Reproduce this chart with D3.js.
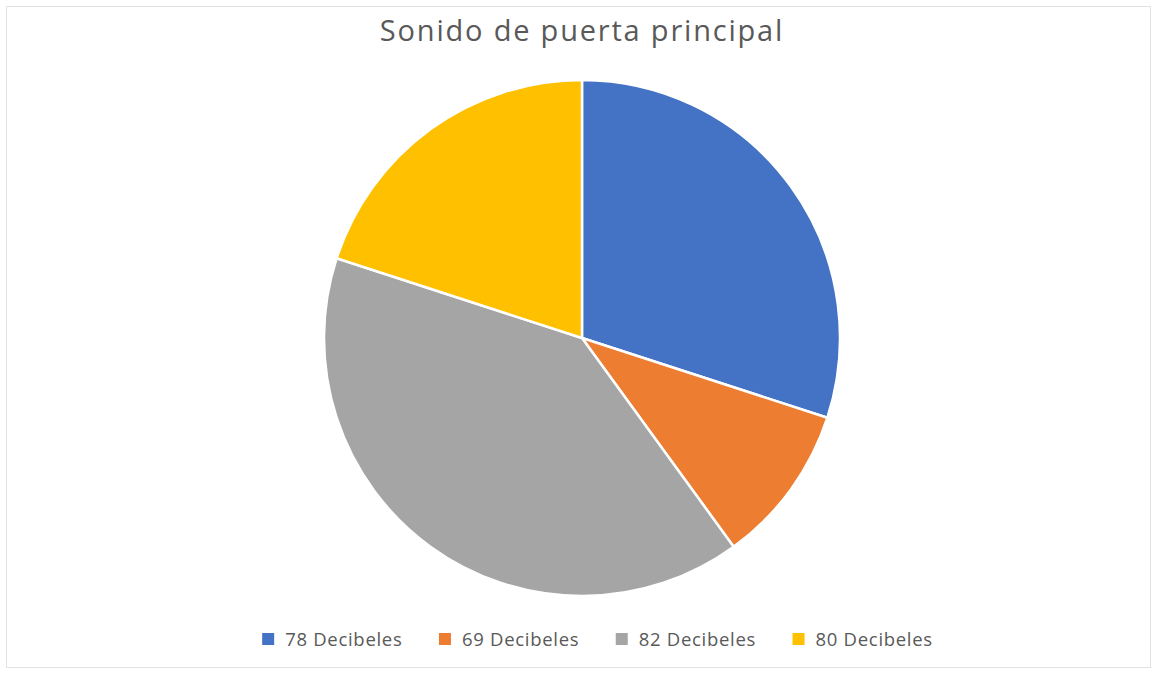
<!DOCTYPE html>
<html>
<head>
<meta charset="utf-8">
<script src="https://cdn.jsdelivr.net/npm/d3@7"></script>
<style>
  html, body { margin: 0; padding: 0; background: #fff; }
  svg { display: block; }
</style>
</head>
<body>
<svg id="chart" width="1155" height="673"></svg>
<script>
// Door sound readings: share of each level
const categories = ["78 Decibeles", "69 Decibeles", "82 Decibeles", "80 Decibeles"];
const values = [3, 1, 4, 2];
const colors = ["#4472C4", "#ED7D31", "#A5A5A5", "#FFC000"];
const title = "Sonido de puerta principal";

const svg = d3.select("#chart");
const font = "'Open Sans', 'Noto Sans', sans-serif";

// chart frame
svg.append("rect")
  .attr("x", 6.5).attr("y", 6.5)
  .attr("width", 1144).attr("height", 661)
  .attr("fill", "#fff")
  .attr("stroke", "#e3e3e3")
  .attr("stroke-width", 1);

// title
svg.append("text")
  .attr("x", 582).attr("y", 41)
  .attr("text-anchor", "middle")
  .attr("font-family", font)
  .attr("font-size", 29)
  .attr("letter-spacing", "1.8px")
  .attr("fill", "#595959")
  .text(title);

// pie
const cx = 582, cy = 338, R = 258;
const pie = d3.pie().sort(null).value(d => d.v);
const arc = d3.arc().innerRadius(0).outerRadius(R);
const data = categories.map((c, i) => ({ c, v: values[i], col: colors[i] }));

svg.append("g")
  .attr("transform", `translate(${cx},${cy})`)
  .selectAll("path")
  .data(pie(data))
  .join("path")
  .attr("d", arc)
  .attr("fill", d => d.data.col)
  .attr("stroke", "#fff")
  .attr("stroke-width", 2.5)
  .attr("stroke-linejoin", "round");

// legend
const legendY = 639;
const items = svg.append("g").selectAll("g").data(data).join("g");
items.append("rect")
  .attr("width", 12).attr("height", 12)
  .attr("y", legendY - 6)
  .attr("fill", d => d.col);
items.append("text")
  .attr("x", 23).attr("y", legendY)
  .attr("dy", "0.36em")
  .attr("font-family", font)
  .attr("font-size", 18.5)
  .attr("letter-spacing", "0.7px")
  .attr("fill", "#595959")
  .text(d => d.c);

// place legend entries in a centred row
const gap = 36.5;
const widths = [];
items.each(function () { widths.push(this.getBBox().width); });
const total = d3.sum(widths) + gap * (widths.length - 1);
let start = 597.5 - total / 2;
items.attr("transform", (d, i) => {
  const tx = start;
  start += widths[i] + gap;
  return `translate(${tx},0)`;
});
</script>
</body>
</html>
